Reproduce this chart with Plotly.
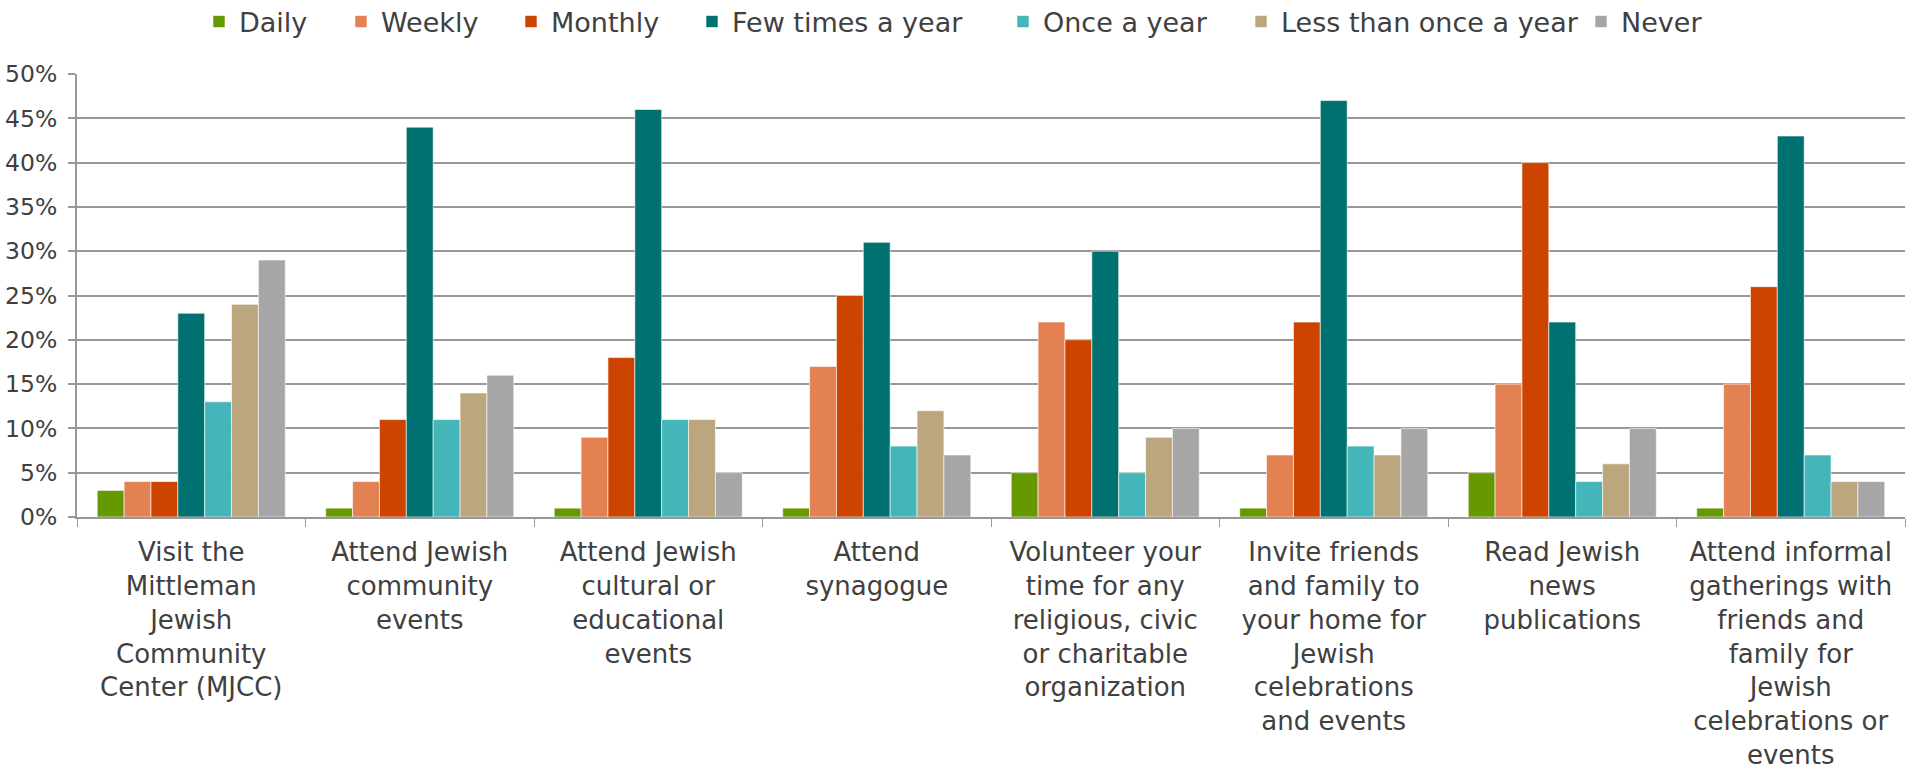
import plotly.graph_objects as go

categories = [
    "Visit the<br>Mittleman<br>Jewish<br>Community<br>Center (MJCC)",
    "Attend Jewish<br>community<br>events",
    "Attend Jewish<br>cultural or<br>educational<br>events",
    "Attend<br>synagogue",
    "Volunteer your<br>time for any<br>religious, civic<br>or charitable<br>organization",
    "Invite friends<br>and family to<br>your home for<br>Jewish<br>celebrations<br>and events",
    "Read Jewish<br>news<br>publications",
    "Attend informal<br>gatherings with<br>friends and<br>family for<br>Jewish<br>celebrations or<br>events",
]

daily = [3, 1, 1, 1, 5, 1, 5, 1]
weekly = [4, 4, 9, 17, 22, 7, 15, 15]
monthly = [4, 11, 18, 25, 20, 22, 40, 26]
few_times = [23, 44, 46, 31, 30, 47, 22, 43]
once_year = [13, 11, 11, 8, 5, 8, 4, 7]
less_once = [24, 14, 11, 12, 9, 7, 6, 4]
never = [29, 16, 5, 7, 10, 10, 10, 4]

series = [
    ("Daily", daily, "#669900"),
    ("Weekly", weekly, "#E38152"),
    ("Monthly", monthly, "#CC4400"),
    ("Few times a year", few_times, "#007070"),
    ("Once a year", once_year, "#44B6B9"),
    ("Less than once a year", less_once, "#BBA67E"),
    ("Never", never, "#A6A6A6"),
]

# left edge (px) of each legend entry
legend_x = [199, 341, 511, 692, 1003, 1241, 1581]

font_family = "DejaVu Sans, Verdana, sans-serif"
text_color = "#404040"
grid_color = "#989898"
W, H = 1907, 772

fig = go.Figure()
legend_layouts = {}
for i, (name, vals, color) in enumerate(series):
    lg = "legend" if i == 0 else f"legend{i + 1}"
    fig.add_trace(go.Bar(
        name=name,
        x=categories,
        y=[v / 100 for v in vals],
        marker=dict(color=color, line=dict(color="white", width=0.6)),
        legend=lg,
        showlegend=True,
    ))
    legend_layouts[lg] = dict(
        orientation="h",
        xref="container", x=legend_x[i] / W, xanchor="left",
        yref="container", y=1 - 22 / H, yanchor="middle",
        font=dict(size=27, color=text_color, family=font_family),
        itemwidth=30,
        bgcolor="rgba(0,0,0,0)",
    )

fig.update_layout(
    width=W, height=H,
    showlegend=True,
    barmode="group",
    bargap=0.177,
    bargroupgap=0,
    plot_bgcolor="white",
    paper_bgcolor="white",
    margin=dict(l=77, r=2, t=74, b=255, autoexpand=False),
    font=dict(family=font_family, color=text_color, size=26),
    xaxis=dict(
        automargin=False,
        showline=True, linecolor=grid_color, linewidth=2,
        ticks="outside", tickson="boundaries", ticklen=8, tickcolor=grid_color, tickwidth=1,
        tickfont=dict(size=26, color=text_color),
        showgrid=False,
        ticklabelstandoff=11,
    ),
    yaxis=dict(
        automargin=False,
        range=[0, 0.5], dtick=0.05, tickformat=".0%",
        showgrid=True, gridcolor=grid_color, gridwidth=2,
        showline=True, linecolor=grid_color, linewidth=2,
        ticks="outside", ticklen=7, tickcolor=grid_color, tickwidth=2,
        tickfont=dict(size=23.5, color=text_color),
        zeroline=False,
        ticklabelstandoff=6,
    ),
    **legend_layouts,
)

fig.write_html(
    "out.html",
    config={"displayModeBar": False},
    post_script="document.body.style.margin='0';document.body.style.padding='0';document.body.style.overflow='hidden';",
)
